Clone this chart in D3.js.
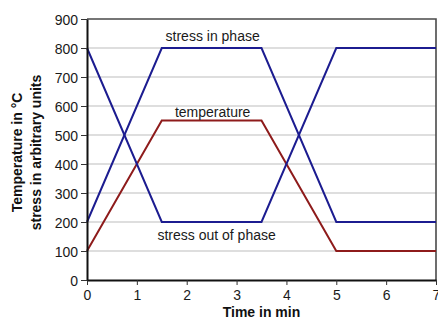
<!DOCTYPE html>
<html>
<head>
<meta charset="utf-8">
<script src="https://cdn.jsdelivr.net/npm/d3@7"></script>
<style>
  html, body { margin: 0; padding: 0; background: #fff; }
  svg { display: block; font-family: "Liberation Sans", Arial, sans-serif; }
</style>
</head>
<body>
<svg id="chart" width="438" height="320"></svg>
<script>
// Time axis (minutes) and the three cycle curves
const timeMin = [0, 1.5, 3.5, 5, 7];
const stressInPhase = [200, 800, 800, 200, 200];
const stressOutOfPhase = [800, 200, 200, 800, 800];
const temperature = [100, 550, 550, 100, 100];

const xTicks = [0, 1, 2, 3, 4, 5, 6, 7];
const yTicks = [0, 100, 200, 300, 400, 500, 600, 700, 800, 900];

// Curve labels: text and where they sit, in data units
const labelText = ["stress in phase", "temperature", "stress out of phase"];
const labelTime = [2.52, 2.52, 2.6];
const labelValue = [825, 562, 137];

const svg = d3.select("#chart");
const plotL = 87, plotR = 436, plotT = 19, plotB = 280;

const x = d3.scaleLinear().domain([0, 7]).range([plotL, plotR]);
const y = d3.scaleLinear().domain([0, 900]).range([plotB, plotT]);

// horizontal gridlines
svg.append("g")
  .selectAll("line")
  .data(yTicks.filter(d => d > 0 && d < 900))
  .join("line")
  .attr("x1", plotL).attr("x2", plotR)
  .attr("y1", d => y(d)).attr("y2", d => y(d))
  .attr("stroke", "#bdbdbd").attr("stroke-width", 1);

// top and right frame
svg.append("path")
  .attr("d", `M${plotL},${y(900)}H${plotR}V${plotB}`)
  .attr("fill", "none").attr("stroke", "#4a4a4a").attr("stroke-width", 1.6);

// curves
const line = d3.line().x((d, i) => x(timeMin[i])).y(d => y(d));
const series = [
  { v: temperature, c: "#8e1b1b" },
  { v: stressInPhase, c: "#1c1c90" },
  { v: stressOutOfPhase, c: "#1c1c90" }
];
svg.append("g")
  .selectAll("path")
  .data(series)
  .join("path")
  .attr("d", d => line(d.v))
  .attr("fill", "none")
  .attr("stroke", d => d.c)
  .attr("stroke-width", 2)
  .attr("stroke-linejoin", "miter");

// axes
const xAxis = svg.append("g")
  .attr("transform", `translate(0,${plotB})`)
  .call(d3.axisBottom(x).tickValues(xTicks).tickFormat(d3.format("d")).tickSizeInner(5).tickSizeOuter(0).tickPadding(5));
const yAxis = svg.append("g")
  .attr("transform", `translate(${plotL},0)`)
  .call(d3.axisLeft(y).tickValues(yTicks).tickFormat(d3.format("d")).tickSizeInner(6).tickSizeOuter(0).tickPadding(3));

[xAxis, yAxis].forEach(g => {
  g.select(".domain").attr("stroke", "#111").attr("stroke-width", 2);
  g.selectAll(".tick line").attr("stroke", "#333").attr("stroke-width", 1);
  g.selectAll(".tick text")
    .attr("font-size", 14)
    .attr("fill", "#1a1a1a")
    .attr("font-family", "'Liberation Sans', Arial, sans-serif");
});
yAxis.selectAll(".tick text").attr("dy", "0.36em");

// axis titles
svg.append("text")
  .attr("x", (plotL + plotR) / 2).attr("y", 317)
  .attr("text-anchor", "middle")
  .attr("font-size", 14).attr("font-weight", "bold").attr("fill", "#111")
  .text("Time in min");

const yTitle = svg.append("text")
  .attr("transform", `translate(0,${(plotT + plotB) / 2 + 3}) rotate(-90)`)
  .attr("text-anchor", "middle")
  .attr("font-size", 14).attr("font-weight", "bold").attr("fill", "#111");
yTitle.append("tspan").attr("x", 0).attr("y", 22).text("Temperature in °C");
yTitle.append("tspan").attr("x", 0).attr("y", 41).text("stress in arbitrary units");

// curve labels
svg.append("g")
  .selectAll("text")
  .data(labelText)
  .join("text")
  .attr("x", (d, i) => x(labelTime[i]))
  .attr("y", (d, i) => y(labelValue[i]))
  .attr("text-anchor", "middle")
  .attr("font-size", 14).attr("fill", "#1a1a1a")
  .text(d => d);
</script>
</body>
</html>
